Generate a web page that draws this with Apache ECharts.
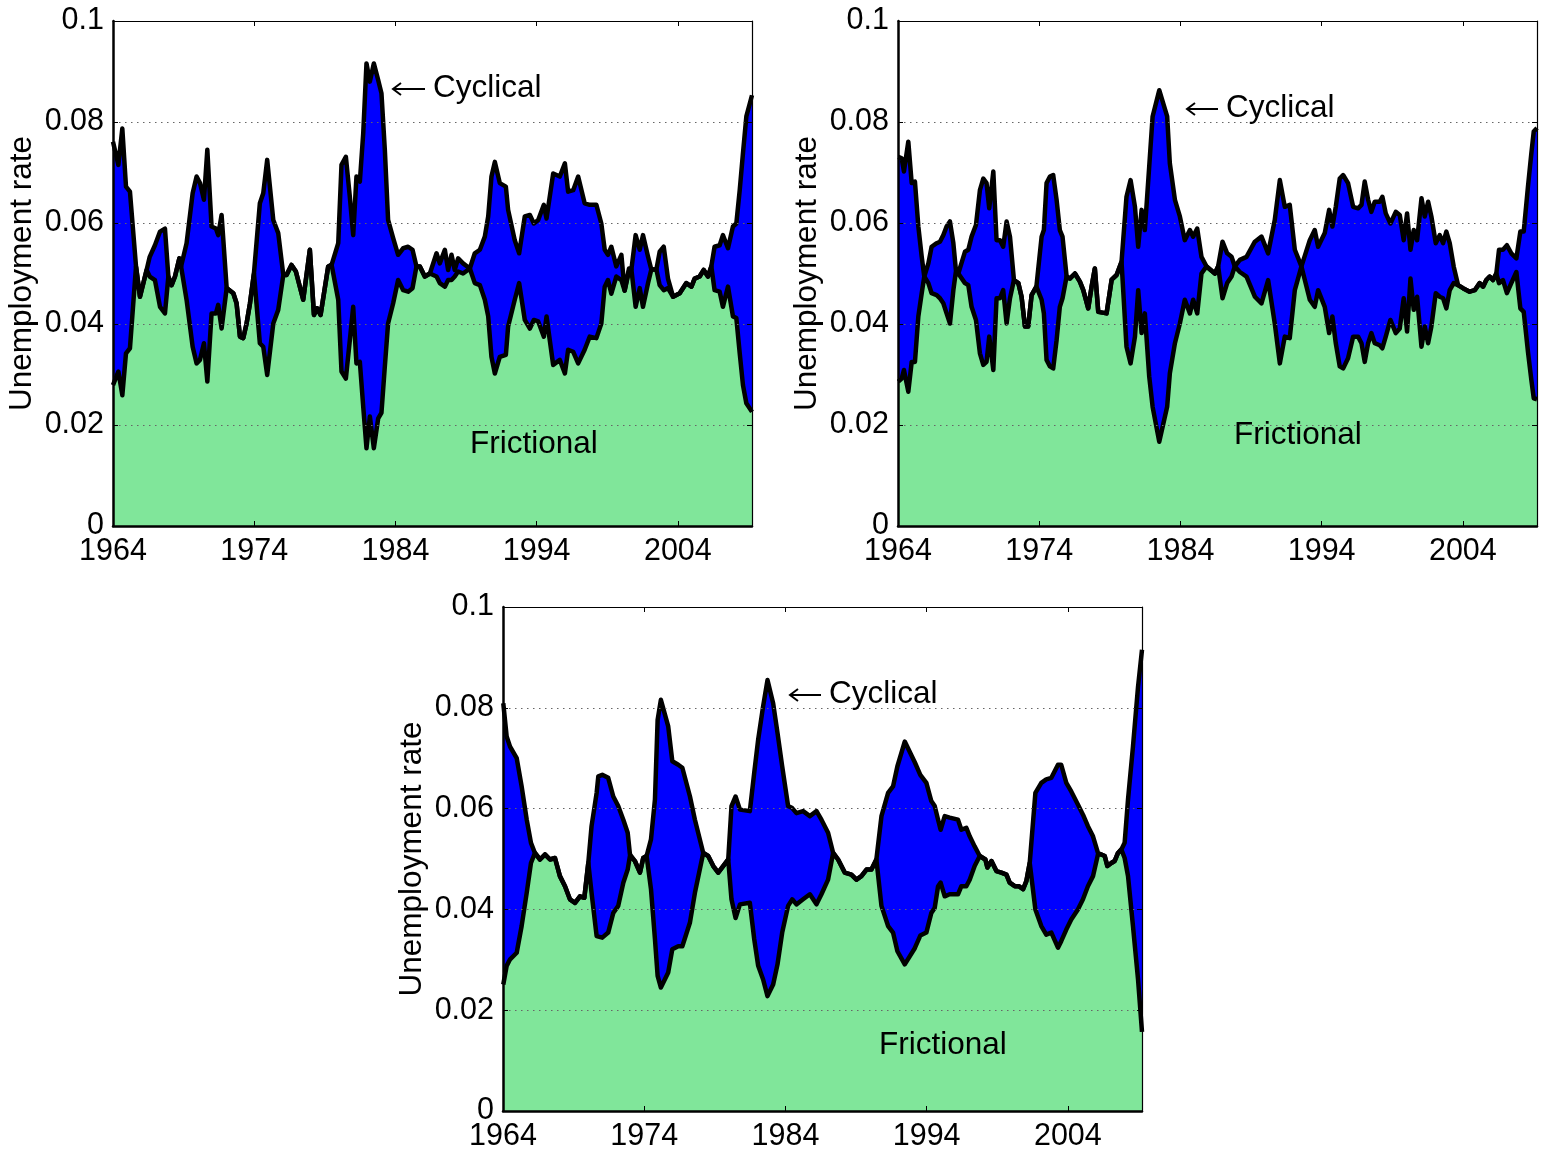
<!DOCTYPE html>
<html>
<head>
<meta charset="utf-8">
<script src="https://cdn.jsdelivr.net/npm/echarts@6/dist/echarts.min.js"></script>
<style>
  html, body { margin: 0; padding: 0; background: #fff; }
  #chart { width: 1549px; height: 1152px; }
</style>
</head>
<body>
<div id="chart"></div>
<script>
// panel A (top left)
const yearsA = [
  1964.0, 1964.38, 1964.66, 1964.92, 1965.2, 1965.63, 1965.91, 1966.38, 1966.6, 1966.97,
  1967.33, 1967.68, 1967.92, 1968.15, 1968.39, 1968.7, 1968.82, 1969.21, 1969.64, 1969.92,
  1970.16, 1970.44, 1970.68, 1970.98, 1971.29, 1971.45, 1971.69, 1972.05, 1972.52, 1972.75,
  1972.99, 1973.22, 1973.46, 1973.7, 1973.98, 1974.4, 1974.64, 1974.92, 1975.35, 1975.7,
  1976.06, 1976.29, 1976.64, 1976.95, 1977.47, 1977.94, 1978.23, 1978.46, 1978.7, 1979.24,
  1979.48, 1979.95, 1980.18, 1980.49, 1980.77, 1981.01, 1981.24, 1981.48, 1981.72, 1981.95,
  1982.19, 1982.47, 1982.78, 1983.01, 1983.25, 1983.48, 1983.84, 1984.19, 1984.55, 1984.9,
  1985.21, 1985.49, 1985.73, 1986.08, 1986.44, 1986.91, 1987.14, 1987.5, 1987.73, 1987.97,
  1988.2, 1988.44, 1988.79, 1989.27, 1989.62, 1989.98, 1990.33, 1990.57, 1990.8, 1991.04,
  1991.39, 1991.82, 1991.98, 1992.45, 1992.76, 1993.16, 1993.52, 1993.8, 1994.11, 1994.51,
  1994.7, 1995.17, 1995.64, 1996.0, 1996.23, 1996.59, 1996.94, 1997.4, 1997.76, 1998.23,
  1998.58, 1998.82, 1999.05, 1999.29, 1999.64, 2000.0, 2000.23, 2000.54, 2000.71, 2001.01,
  2001.3, 2001.53, 2001.89, 2002.12, 2002.48, 2002.71, 2003.0, 2003.3, 2003.66, 2004.13,
  2004.6, 2004.96, 2005.19, 2005.54, 2005.83, 2006.13, 2006.37, 2006.6, 2006.96, 2007.19,
  2007.55, 2007.9, 2008.14, 2008.38, 2008.61, 2008.85, 2009.25
];
const upperA = [
  .0761, .0715, .0787, .0672, .0662, .0514, .0454, .0507, .0533, .0556,
  .0583, .0589, .0494, .0477, .0494, .0530, .0514, .0560, .0659, .0692,
  .0679, .0646, .0745, .0593, .0589, .0576, .0616, .0471, .0461, .0441,
  .0375, .0372, .0401, .0441, .0500, .0639, .0659, .0725, .0606, .0580,
  .0497, .0497, .0517, .0504, .0448, .0547, .0418, .0431, .0418, .0514,
  .0517, .0560, .0715, .0731, .0652, .0576, .0692, .0682, .0778, .0916,
  .0880, .0916, .0883, .0857, .0745, .0606, .0570, .0537, .0550, .0553,
  .0547, .0514, .0514, .0494, .0500, .0540, .0520, .0547, .0507, .0537,
  .0507, .0530, .0520, .0510, .0540, .0547, .0573, .0613, .0692, .0721,
  .0679, .0672, .0626, .0566, .0540, .0613, .0616, .0599, .0606, .0636,
  .0609, .0698, .0692, .0718, .0662, .0665, .0692, .0639, .0636, .0636,
  .0599, .0547, .0537, .0553, .0514, .0537, .0466, .0510, .0508, .0576,
  .0547, .0576, .0533, .0508, .0508, .0543, .0553, .0490, .0454, .0461,
  .0481, .0474, .0490, .0494, .0507, .0494, .0514, .0553, .0556, .0576,
  .0550, .0593, .0599, .0665, .0738, .0811, .0853
];
const lowerA = [
  .0279, .0306, .0259, .0342, .0352, .0514, .0454, .0507, .0494, .0487,
  .0434, .0421, .0494, .0477, .0494, .0530, .0514, .0448, .0355, .0322,
  .0329, .0362, .0286, .0421, .0421, .0438, .0391, .0471, .0461, .0441,
  .0375, .0372, .0401, .0441, .0500, .0362, .0355, .0299, .0401, .0428,
  .0497, .0497, .0517, .0504, .0448, .0547, .0418, .0431, .0418, .0514,
  .0517, .0448, .0306, .0292, .0368, .0434, .0322, .0325, .0236, .0154,
  .0217, .0154, .0213, .0224, .0316, .0401, .0441, .0487, .0467, .0464,
  .0471, .0514, .0514, .0494, .0500, .0494, .0481, .0474, .0487, .0487,
  .0494, .0504, .0500, .0510, .0481, .0477, .0448, .0415, .0335, .0302,
  .0335, .0339, .0395, .0448, .0481, .0408, .0391, .0408, .0405, .0375,
  .0415, .0319, .0329, .0302, .0349, .0345, .0322, .0349, .0375, .0372,
  .0401, .0474, .0487, .0460, .0494, .0487, .0466, .0505, .0508, .0434,
  .0471, .0434, .0481, .0508, .0508, .0477, .0467, .0471, .0454, .0461,
  .0481, .0474, .0490, .0494, .0507, .0494, .0514, .0467, .0464, .0434,
  .0474, .0415, .0412, .0342, .0279, .0243, .0226
];

// panel B (top right)
const yearsB = [
  1964.02, 1964.26, 1964.42, 1964.73, 1964.97, 1965.2, 1965.44, 1965.68, 1965.86, 1966.15,
  1966.38, 1966.74, 1966.97, 1967.21, 1967.44, 1967.68, 1967.92, 1968.1, 1968.27, 1968.74,
  1968.98, 1969.21, 1969.52, 1969.8, 1970.04, 1970.27, 1970.46, 1970.75, 1970.98, 1971.22,
  1971.45, 1971.69, 1971.93, 1972.21, 1972.52, 1972.75, 1972.99, 1973.22, 1973.46, 1973.8,
  1974.17, 1974.33, 1974.52, 1974.76, 1974.99, 1975.23, 1975.46, 1975.65, 1975.94, 1976.17,
  1976.53, 1976.88, 1977.12, 1977.47, 1977.71, 1977.94, 1978.18, 1978.77, 1979.13, 1979.48,
  1979.83, 1980.18, 1980.47, 1980.78, 1981.01, 1981.25, 1981.48, 1981.79, 1982.03, 1982.5,
  1983.06, 1983.25, 1983.61, 1983.96, 1984.31, 1984.67, 1984.9, 1985.19, 1985.49, 1985.85,
  1986.44, 1986.67, 1986.98, 1987.31, 1987.62, 1987.85, 1988.21, 1988.68, 1989.27, 1989.74,
  1990.21, 1990.68, 1991.04, 1991.39, 1991.74, 1992.1, 1992.57, 1993.16, 1993.51, 1993.75,
  1994.22, 1994.53, 1994.76, 1995.0, 1995.28, 1995.52, 1995.87, 1996.23, 1996.58, 1996.82,
  1997.05, 1997.29, 1997.52, 1997.76, 1998.11, 1998.3, 1998.54, 1998.87, 1999.25, 1999.53,
  1999.81, 2000.05, 2000.29, 2000.52, 2000.76, 2001.07, 2001.3, 2001.54, 2001.77, 2002.08,
  2002.36, 2002.6, 2002.83, 2003.07, 2003.35, 2003.66, 2004.01, 2004.48, 2004.84, 2005.19,
  2005.43, 2005.66, 2005.9, 2006.13, 2006.37, 2006.56, 2006.84, 2007.12, 2007.43, 2007.79,
  2008.07, 2008.31, 2008.61, 2008.85, 2009.02, 2009.25
];
const upperB = [
  .0731, .0728, .0702, .0761, .0679, .0682, .0593, .0533, .0494, .0520,
  .0553, .0560, .0563, .0576, .0593, .0603, .0560, .0507, .0500, .0543,
  .0547, .0573, .0596, .0665, .0688, .0679, .0629, .0702, .0566, .0566,
  .0553, .0603, .0573, .0487, .0481, .0454, .0395, .0395, .0457, .0474,
  .0573, .0586, .0679, .0692, .0695, .0646, .0586, .0573, .0494, .0490,
  .0500, .0484, .0467, .0431, .0474, .0510, .0424, .0421, .0488, .0497,
  .0523, .0652, .0685, .0632, .0553, .0626, .0586, .0712, .0811, .0863,
  .0811, .0718, .0646, .0613, .0566, .0586, .0573, .0589, .0533, .0514,
  .0500, .0514, .0563, .0540, .0533, .0514, .0527, .0533, .0563, .0573,
  .0540, .0606, .0685, .0632, .0636, .0547, .0514, .0566, .0586, .0553,
  .0580, .0626, .0593, .0632, .0688, .0695, .0679, .0632, .0629, .0636,
  .0682, .0646, .0622, .0642, .0642, .0652, .0619, .0599, .0622, .0616,
  .0566, .0619, .0547, .0586, .0566, .0649, .0613, .0642, .0613, .0560,
  .0576, .0560, .0583, .0560, .0514, .0477, .0471, .0464, .0467, .0481,
  .0474, .0487, .0494, .0487, .0500, .0547, .0547, .0556, .0540, .0530,
  .0583, .0583, .0672, .0738, .0781, .0788
];
const lowerB = [
  .0286, .0292, .0309, .0266, .0325, .0325, .0415, .0461, .0494, .0481,
  .0461, .0457, .0451, .0441, .0421, .0401, .0467, .0504, .0500, .0481,
  .0477, .0434, .0408, .0342, .0319, .0325, .0375, .0309, .0451, .0451,
  .0467, .0401, .0451, .0487, .0481, .0454, .0395, .0395, .0457, .0474,
  .0448, .0421, .0329, .0316, .0312, .0368, .0434, .0451, .0494, .0490,
  .0500, .0484, .0467, .0431, .0474, .0510, .0424, .0421, .0488, .0497,
  .0523, .0355, .0322, .0375, .0467, .0382, .0421, .0296, .0236, .0167,
  .0236, .0302, .0362, .0401, .0448, .0421, .0448, .0421, .0500, .0514,
  .0500, .0514, .0451, .0481, .0494, .0514, .0503, .0494, .0454, .0441,
  .0487, .0401, .0322, .0375, .0372, .0467, .0514, .0448, .0434, .0467,
  .0434, .0382, .0415, .0362, .0316, .0312, .0332, .0375, .0375, .0362,
  .0325, .0362, .0382, .0362, .0358, .0352, .0375, .0408, .0382, .0391,
  .0451, .0385, .0490, .0428, .0454, .0355, .0395, .0362, .0395, .0461,
  .0454, .0451, .0431, .0467, .0481, .0477, .0471, .0464, .0467, .0481,
  .0474, .0487, .0494, .0487, .0500, .0481, .0487, .0461, .0481, .0503,
  .0431, .0424, .0345, .0289, .0253, .0251
];

// panel C (bottom)
const yearsC = [
  1964.02, 1964.26, 1964.5, 1964.97, 1965.32, 1965.68, 1965.98, 1966.26, 1966.62, 1966.97,
  1967.33, 1967.68, 1968.03, 1968.39, 1968.74, 1969.1, 1969.45, 1969.76, 1970.04, 1970.27,
  1970.63, 1970.75, 1971.03, 1971.45, 1971.81, 1972.16, 1972.52, 1972.83, 1972.99, 1973.34,
  1973.7, 1973.93, 1974.17, 1974.48, 1974.76, 1974.95, 1975.18, 1975.7, 1975.99, 1976.41,
  1976.7, 1977.24, 1977.59, 1978.18, 1978.53, 1978.89, 1979.24, 1979.59, 1979.95, 1980.18,
  1980.47, 1980.78, 1981.48, 1981.79, 1982.07, 1982.42, 1982.73, 1983.13, 1983.44, 1983.77,
  1984.19, 1984.48, 1984.78, 1985.25, 1985.73, 1986.2, 1986.55, 1987.02, 1987.38, 1987.73,
  1988.2, 1988.67, 1989.03, 1989.38, 1989.74, 1990.09, 1990.44, 1990.8, 1991.27, 1991.62,
  1991.93, 1992.45, 1993.16, 1993.55, 1993.98, 1994.33, 1994.57, 1994.81, 1994.99, 1995.28,
  1995.63, 1996.22, 1996.46, 1996.81, 1997.05, 1997.4, 1997.76, 1998.16, 1998.3, 1998.59,
  1998.94, 1999.29, 1999.65, 1999.88, 2000.24, 2000.52, 2000.83, 2001.06, 2001.3, 2001.7,
  2002.12, 2002.47, 2002.83, 2003.3, 2003.53, 2003.89, 2004.24, 2004.71, 2005.07, 2005.42,
  2005.78, 2006.13, 2006.37, 2006.61, 2006.8, 2007.08, 2007.31, 2007.55, 2007.79, 2008.02,
  2008.26, 2008.61, 2008.97, 2009.25
];
const upperC = [
  .0809, .0743, .0723, .0700, .0644, .0578, .0532, .0512, .0499, .0509,
  .0499, .0502, .0466, .0446, .0420, .0413, .0426, .0423, .0492, .0565,
  .0631, .0664, .0667, .0661, .0624, .0605, .0578, .0552, .0509, .0496,
  .0473, .0502, .0506, .0539, .0618, .0776, .0816, .0763, .0694, .0687,
  .0681, .0624, .0578, .0512, .0506, .0486, .0473, .0486, .0499, .0605,
  .0624, .0598, .0595, .0671, .0737, .0803, .0855, .0809, .0750, .0684,
  .0605, .0601, .0591, .0595, .0585, .0595, .0578, .0552, .0512, .0499,
  .0473, .0469, .0459, .0466, .0479, .0479, .0499, .0585, .0631, .0644,
  .0684, .0733, .0692, .0667, .0651, .0615, .0605, .0578, .0558, .0585,
  .0582, .0578, .0558, .0562, .0545, .0525, .0506, .0499, .0483, .0496,
  .0476, .0473, .0469, .0453, .0446, .0446, .0440, .0456, .0492, .0631,
  .0651, .0658, .0661, .0687, .0687, .0651, .0634, .0608, .0588, .0565,
  .0545, .0512, .0509, .0506, .0486, .0492, .0496, .0512, .0519, .0532,
  .0618, .0723, .0842, .0915
];
const lowerC = [
  .0251, .0288, .0301, .0314, .0367, .0433, .0492, .0512, .0499, .0509,
  .0499, .0502, .0466, .0446, .0420, .0413, .0426, .0423, .0492, .0433,
  .0347, .0345, .0344, .0354, .0393, .0407, .0453, .0479, .0506, .0496,
  .0473, .0502, .0506, .0440, .0341, .0268, .0245, .0275, .0321, .0327,
  .0327, .0374, .0433, .0512, .0506, .0486, .0473, .0486, .0499, .0420,
  .0383, .0410, .0413, .0341, .0288, .0261, .0228, .0251, .0291, .0354,
  .0407, .0420, .0410, .0420, .0430, .0410, .0430, .0459, .0512, .0499,
  .0473, .0469, .0459, .0466, .0479, .0479, .0499, .0407, .0367, .0354,
  .0317, .0291, .0323, .0348, .0354, .0393, .0403, .0446, .0453, .0426,
  .0430, .0430, .0446, .0446, .0459, .0486, .0506, .0499, .0483, .0496,
  .0476, .0473, .0469, .0453, .0446, .0446, .0440, .0456, .0492, .0400,
  .0367, .0350, .0354, .0324, .0337, .0360, .0380, .0400, .0420, .0446,
  .0466, .0509, .0509, .0506, .0486, .0492, .0496, .0512, .0519, .0502,
  .0466, .0367, .0261, .0157
];

const yTicks = [0, 0.02, 0.04, 0.06, 0.08, 0.1];
const xTicks = [1964, 1974, 1984, 1994, 2004];

const panels = [
  { years: yearsA, upper: upperA, lower: lowerA, left: 113, top: 21,
    arrow: [393, 425, 89], cyc: [433, 88], fric: [470, 444] },
  { years: yearsB, upper: upperB, lower: lowerB, left: 898, top: 21,
    arrow: [1187, 1218, 109], cyc: [1226, 108], fric: [1234, 435] },
  { years: yearsC, upper: upperC, lower: lowerC, left: 503, top: 607,
    arrow: [790, 821, 695], cyc: [829, 694], fric: [879, 1045] }
];

const font = "'Liberation Sans', Arial, Helvetica, sans-serif";
const toPairs = (xs, ys) => xs.map((x, k) => [x, ys[k]]);

const grid = [];
const xAxis = [];
const yAxis = [];
const series = [];
const graphic = [];

panels.forEach((p, i) => {
  grid.push({ left: p.left, top: p.top, width: 639, height: 505 });

  const xBase = {
    gridIndex: i, type: 'value', min: 1964, max: 2009.25, interval: 10, z: 5,
    splitLine: { show: false },
    axisTick: { show: true, inside: true, length: 5, lineStyle: { color: '#000', width: 1 } }
  };
  xAxis.push(Object.assign({}, xBase, {
    position: 'bottom',
    axisLine: { show: true, onZero: false, lineStyle: { color: '#000', width: 2.5 } },
    axisLabel: {
      color: '#000', fontSize: 30.5, fontFamily: font, margin: 10,
      showMaxLabel: false,
      formatter: v => (xTicks.indexOf(v) >= 0 ? String(v) : '')
    }
  }));
  xAxis.push(Object.assign({}, xBase, {
    position: 'top',
    axisLine: { show: true, onZero: false, lineStyle: { color: '#000', width: 1.2 } },
    axisLabel: { show: false }
  }));

  const yBase = {
    gridIndex: i, type: 'value', min: 0, max: 0.1, interval: 0.02, z: 5,
    axisTick: { show: true, inside: true, length: 5, lineStyle: { color: '#000', width: 1 } }
  };
  yAxis.push(Object.assign({}, yBase, {
    position: 'left',
    name: 'Unemployment rate',
    nameLocation: 'middle',
    nameGap: 75,
    nameTextStyle: { color: '#000', fontSize: 31.5, fontFamily: font },
    axisLine: { show: true, onZero: false, lineStyle: { color: '#000', width: 2.5 } },
    axisLabel: {
      color: '#000', fontSize: 30.5, fontFamily: font, margin: 9,
      formatter: v => {
        const t = yTicks.find(y => Math.abs(y - v) < 1e-9);
        return t === undefined ? '' : String(t);
      }
    },
    splitLine: { show: true, lineStyle: { color: '#666', width: 1, type: [1.5, 4.5] } }
  }));
  yAxis.push(Object.assign({}, yBase, {
    position: 'right',
    axisLine: { show: true, onZero: false, lineStyle: { color: '#000', width: 1.2 } },
    axisLabel: { show: false },
    splitLine: { show: false }
  }));

  const up = toPairs(p.years, p.upper);
  const lo = toPairs(p.years, p.lower);
  const common = {
    type: 'line', xAxisIndex: 2 * i, yAxisIndex: 2 * i,
    symbol: 'none', showSymbol: false, silent: true, animation: false
  };
  // cyclical band: blue up to the upper curve, frictional green below the lower one
  series.push(Object.assign({}, common, {
    data: up, z: 1, lineStyle: { width: 0 },
    areaStyle: { color: '#0000ff', opacity: 1 }
  }));
  series.push(Object.assign({}, common, {
    data: lo, z: 1, lineStyle: { width: 0 },
    areaStyle: { color: '#80e69a', opacity: 1 }
  }));
  series.push(Object.assign({}, common, {
    data: up, z: 3, lineStyle: { color: '#000', width: 4.5, join: 'round' }
  }));
  series.push(Object.assign({}, common, {
    data: lo, z: 3, lineStyle: { color: '#000', width: 4.5, join: 'round' }
  }));

  const [ax0, ax1, ay] = p.arrow;
  graphic.push({
    type: 'group', z: 10, silent: true,
    children: [
      { type: 'line', shape: { x1: ax0, y1: ay, x2: ax1, y2: ay },
        style: { stroke: '#000', lineWidth: 2 } },
      { type: 'polyline', shape: { points: [[ax0 + 8, ay - 6], [ax0, ay], [ax0 + 8, ay + 6]] },
        style: { stroke: '#000', lineWidth: 2, fill: null } }
    ]
  });
  graphic.push({
    type: 'text', x: p.cyc[0], y: p.cyc[1], z: 10,
    style: { text: 'Cyclical', fontSize: 31.5, fontFamily: font, fill: '#000', verticalAlign: 'middle' }
  });
  graphic.push({
    type: 'text', x: p.fric[0], y: p.fric[1], z: 10,
    style: { text: 'Frictional', fontSize: 31.5, fontFamily: font, fill: '#000', verticalAlign: 'middle' }
  });
});

const chart = echarts.init(document.getElementById('chart'), null, { renderer: 'canvas' });
chart.setOption({
  backgroundColor: '#fff',
  animation: false,
  grid,
  xAxis,
  yAxis,
  series,
  graphic
});
</script>
</body>
</html>
